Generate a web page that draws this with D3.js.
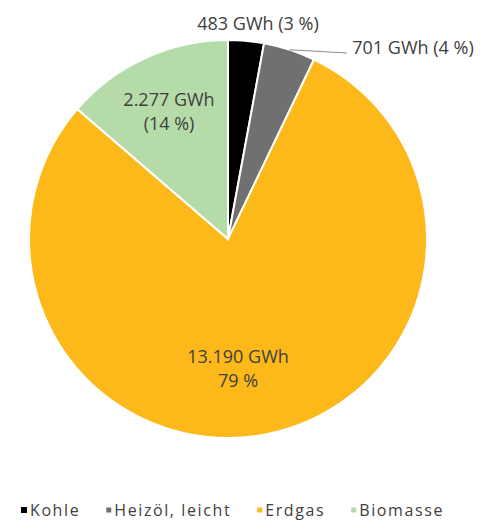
<!DOCTYPE html>
<html>
<head>
<meta charset="utf-8">
<script src="https://cdn.jsdelivr.net/npm/d3@7"></script>
<style>
  body { margin: 0; background: #fff; }
  svg { display: block; }
  text { font-family: "Open Sans", sans-serif; fill: #404040; }
</style>
</head>
<body>
<svg id="chart"></svg>
<script>
// data
var categories = ["Kohle", "Heizöl, leicht", "Erdgas", "Biomasse"];
var values = [483, 701, 13190, 2277];
var labelLines = [["483 GWh (3 %)"], ["701 GWh (4 %)"], ["13.190 GWh", "79 %"], ["2.277 GWh", "(14 %)"]];
var colors = ["#000000", "#707070", "#fdb91a", "#b5dca8"];

var width = 483, height = 522;
var cx = 228, cy = 239, radius = 199;

var svg = d3.select("#chart")
  .attr("width", width)
  .attr("height", height);

var data = categories.map(function(c, i) {
  return { name: c, value: values[i], lines: labelLines[i], color: colors[i] };
});

var pie = d3.pie().sort(null).value(function(d) { return d.value; });
var arc = d3.arc().innerRadius(0).outerRadius(radius);
var arcs = pie(data);

var g = svg.append("g").attr("transform", "translate(" + cx + "," + cy + ")");

g.selectAll("path")
  .data(arcs)
  .enter().append("path")
  .attr("d", arc)
  .attr("fill", function(d) { return d.data.color; })
  .attr("stroke", "#fff")
  .attr("stroke-width", 2);

// label placement (Excel style: first two outside, rest inside)
var labelPos = [
  { x: 30, y: -215 },
  { x: 185, y: -191 },
  { x: 10, y: 130 },
  { x: -59, y: -127 }
];

// leader line for Heizöl label
var hz = arcs[1];
var mid = (hz.startAngle + hz.endAngle) / 2;
g.append("line")
  .attr("x1", Math.sin(mid) * radius)
  .attr("y1", -Math.cos(mid) * radius)
  .attr("x2", 119)
  .attr("y2", -186)
  .attr("stroke", "#8c8c8c")
  .attr("stroke-width", 1);

arcs.forEach(function(d, i) {
  var p = labelPos[i];
  var t = g.append("text")
    .attr("text-anchor", "middle")
    .attr("font-size", "18px");
  var n = d.data.lines.length;
  d.data.lines.forEach(function(line, j) {
    t.append("tspan")
      .attr("x", p.x)
      .attr("y", p.y + (j - (n - 1) / 2) * 24)
      .attr("dy", "0.35em")
      .text(line);
  });
});

// legend
var legend = svg.append("g").attr("transform", "translate(21,510)");
var xpos = 0;
data.forEach(function(d, i) {
  var item = legend.append("g").attr("transform", "translate(" + xpos + ",0)");
  var s = i === 0 ? 6 : 5;
  item.append("rect")
    .attr("x", 0).attr("y", -s / 2)
    .attr("width", s).attr("height", s)
    .attr("fill", d.color);
  var txt = item.append("text")
    .attr("x", s + 3)
    .attr("dy", "0.35em")
    .attr("font-size", "16px")
    .attr("letter-spacing", "1.6px")
    .attr("fill", "#595959")
    .text(d.name);
  xpos += s + 3 + txt.node().getComputedTextLength() + 26;
});
</script>
</body>
</html>
